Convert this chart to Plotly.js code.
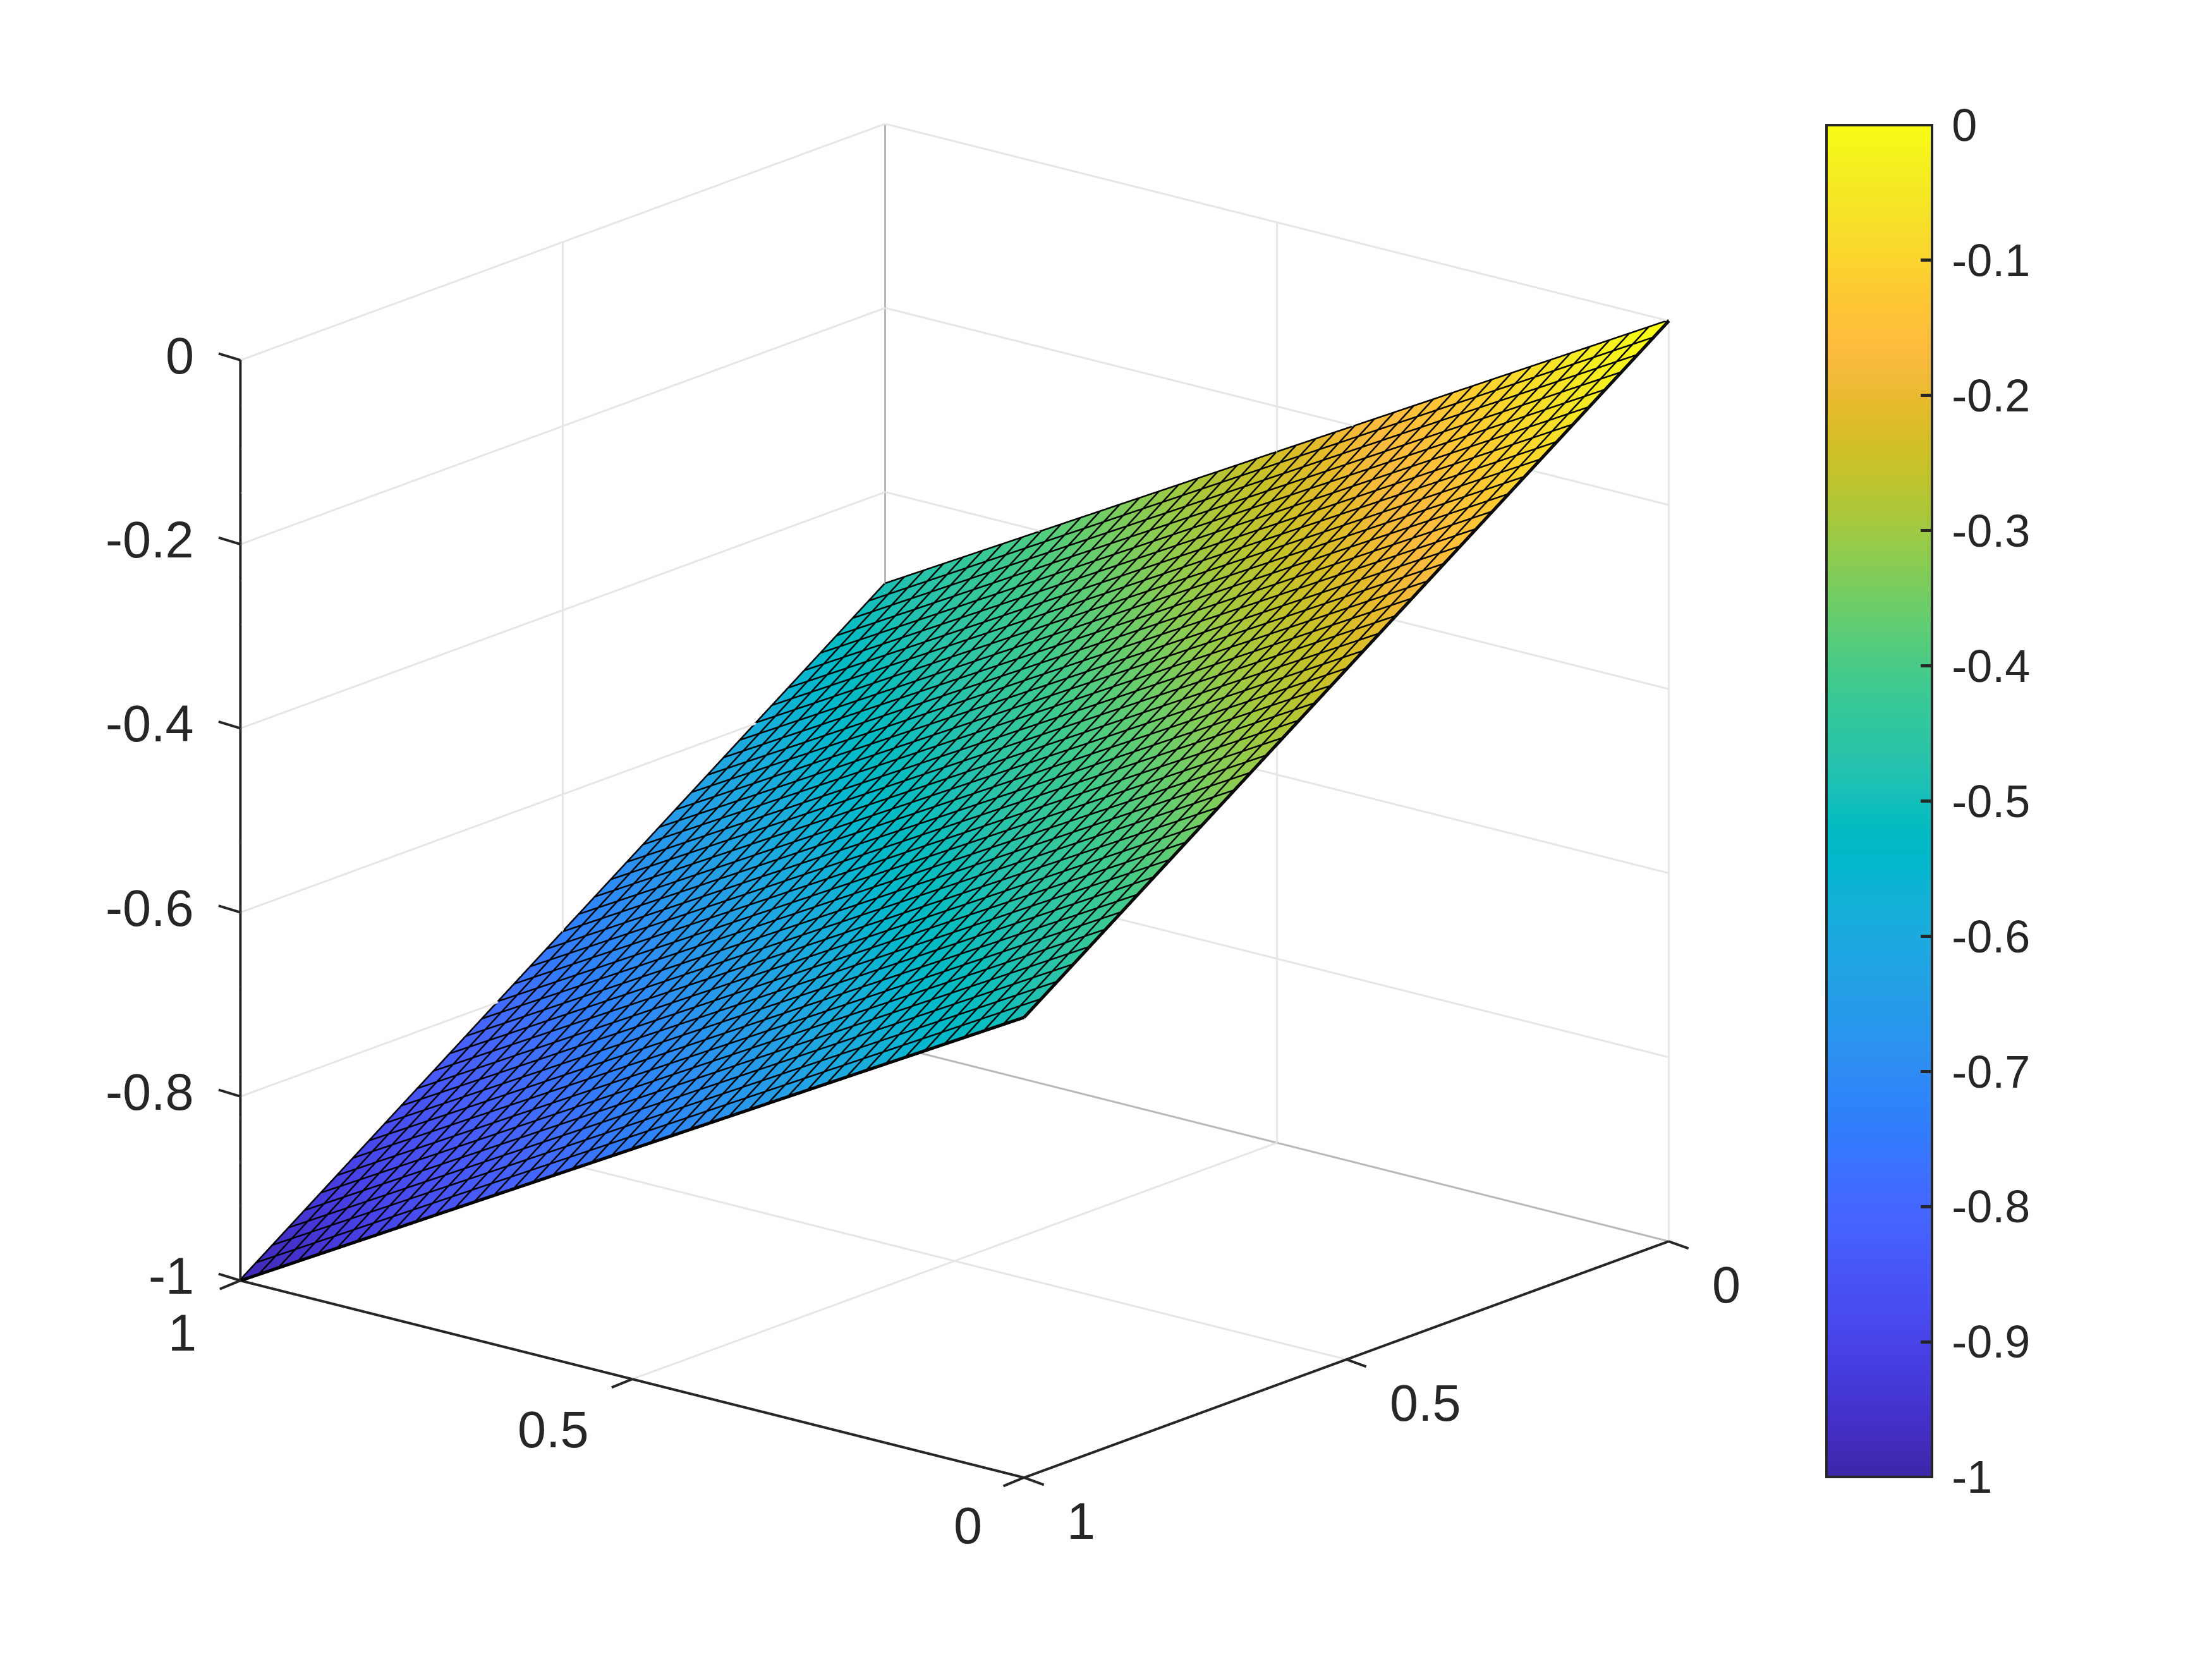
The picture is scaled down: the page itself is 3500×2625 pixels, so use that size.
<!DOCTYPE html>
<html><head><meta charset="utf-8">
<script src="https://cdn.plot.ly/plotly-3.0.1.min.js"></script>
<style>html,body{margin:0;padding:0;background:#fff}#g{width:3500px;height:2625px}</style></head>
<body><div id="g"></div>
<script>
// corner values: the surface is a plane through these four points
const xCorners = [0, 1];
const yCorners = [0, 1];
const zCorners = [[0, -0.5], [-0.5, -1]];
// colour values at the corners: each flat mesh cell takes the colour of its first vertex, slightly above its mean height
const colorCorners = [[0.0125, -0.4875], [-0.4875, -0.9875]];
// mesh lines: grid positions, and surface height along its two opposite edges
const meshGrid = [0,0.025,0.05,0.075,0.1,0.125,0.15,0.175,0.2,0.225,0.25,0.275,0.3,0.325,0.35,0.375,0.4,0.425,0.45,0.475,0.5,0.525,0.55,0.575,0.6,0.625,0.65,0.675,0.7,0.725,0.75,0.775,0.8,0.825,0.85,0.875,0.9,0.925,0.95,0.975,1];
const zEdgeLow = [0,-0.0125,-0.025,-0.0375,-0.05,-0.0625,-0.075,-0.0875,-0.1,-0.1125,-0.125,-0.1375,-0.15,-0.1625,-0.175,-0.1875,-0.2,-0.2125,-0.225,-0.2375,-0.25,-0.2625,-0.275,-0.2875,-0.3,-0.3125,-0.325,-0.3375,-0.35,-0.3625,-0.375,-0.3875,-0.4,-0.4125,-0.425,-0.4375,-0.45,-0.4625,-0.475,-0.4875,-0.5];
const zEdgeHigh = [-0.5,-0.5125,-0.525,-0.5375,-0.55,-0.5625,-0.575,-0.5875,-0.6,-0.6125,-0.625,-0.6375,-0.65,-0.6625,-0.675,-0.6875,-0.7,-0.7125,-0.725,-0.7375,-0.75,-0.7625,-0.775,-0.7875,-0.8,-0.8125,-0.825,-0.8375,-0.85,-0.8625,-0.875,-0.8875,-0.9,-0.9125,-0.925,-0.9375,-0.95,-0.9625,-0.975,-0.9875,-1];

const xyTicks = [0, 0.5, 1];
const xyLabels = ['0', '0.5', '1'];
const zTicks = [-1, -0.8, -0.6, -0.4, -0.2, 0];
const zLabels = ['-1', '-0.8', '-0.6', '-0.4', '-0.2', '0'];
const cbTicks = [-1, -0.9, -0.8, -0.7, -0.6, -0.5, -0.4, -0.3, -0.2, -0.1, 0];
const cbLabels = ['-1', '-0.9', '-0.8', '-0.7', '-0.6', '-0.5', '-0.4', '-0.3', '-0.2', '-0.1', '0'];

const parula = [[0.2422,0.1504,0.6603],[0.2504,0.165,0.7076],[0.2578,0.1818,0.7511],[0.2647,0.1978,0.7952],[0.2706,0.2147,0.8364],[0.2751,0.2342,0.871],[0.2783,0.2559,0.8991],[0.2803,0.2782,0.9221],[0.2813,0.3006,0.9414],[0.281,0.3228,0.9579],[0.2795,0.3447,0.9717],[0.276,0.3667,0.9829],[0.2699,0.3892,0.9906],[0.2602,0.4123,0.9952],[0.244,0.4358,0.9988],[0.2206,0.4603,0.9973],[0.1963,0.4847,0.9892],[0.1834,0.5074,0.9798],[0.1786,0.5289,0.9682],[0.1764,0.5499,0.952],[0.1687,0.5703,0.9359],[0.154,0.5902,0.9218],[0.146,0.6091,0.9079],[0.138,0.6276,0.8973],[0.1248,0.6459,0.8883],[0.1113,0.6635,0.8763],[0.0952,0.6798,0.8598],[0.0689,0.6948,0.8394],[0.0297,0.7082,0.8163],[0.0036,0.7203,0.7917],[0.0067,0.7312,0.766],[0.0433,0.7411,0.7394],[0.0964,0.75,0.712],[0.1408,0.7584,0.6842],[0.1717,0.767,0.6554],[0.1938,0.7758,0.6251],[0.2161,0.7843,0.5923],[0.247,0.7918,0.5567],[0.2906,0.7973,0.5188],[0.3406,0.8008,0.4789],[0.3909,0.8029,0.4354],[0.4456,0.8024,0.3909],[0.5044,0.7993,0.348],[0.5616,0.7942,0.3045],[0.6174,0.7876,0.2612],[0.672,0.7793,0.2227],[0.7242,0.7698,0.191],[0.7738,0.7598,0.1646],[0.8203,0.7498,0.1535],[0.8634,0.7406,0.1596],[0.9035,0.733,0.1774],[0.9393,0.7288,0.21],[0.9728,0.7298,0.2394],[0.9956,0.7434,0.2371],[0.997,0.7659,0.2199],[0.9952,0.7861,0.1996],[0.9892,0.8134,0.1885],[0.9786,0.8386,0.1766],[0.9676,0.8639,0.1643],[0.961,0.889,0.1537],[0.9597,0.9135,0.1423],[0.9628,0.9373,0.1265],[0.9691,0.9606,0.1064],[0.9769,0.9839,0.0805]];
const colorscale = parula.map((c,i)=>[i/(parula.length-1),`rgb(${c.map(v=>Math.round(v*255)).join(',')})`]);

const ink = '#262626';
const font = 'Liberation Sans, Arial, sans-serif';
const zMin = zTicks[0], zMax = zTicks[zTicks.length-1];

function segments(list){
  const out = {x:[],y:[],z:[]};
  list.forEach(s=>{
    out.x.push(s[0][0],s[1][0],null);
    out.y.push(s[0][1],s[1][1],null);
    out.z.push(s[0][2],s[1][2],null);
  });
  return out;
}
function lines(list,color,width){
  return Object.assign({type:'scatter3d',mode:'lines',hoverinfo:'skip',showlegend:false,connectgaps:false,
    line:{color,width}},segments(list));
}

const meshSegs = [];
meshGrid.forEach((g,i)=>{
  meshSegs.push([[g,0,zEdgeLow[i]],[g,1,zEdgeHigh[i]]]);
  meshSegs.push([[0,g,zEdgeLow[i]],[1,g,zEdgeHigh[i]]]);
});
const lightSegs = [];
zTicks.forEach(z=>{
  lightSegs.push([[1,1,z],[1,0,z]]);
  lightSegs.push([[1,0,z],[0,0,z]]);
});
xyTicks.forEach(v=>{
  if(v!==1) lightSegs.push([[v,0,zMin],[v,0,zMax]]);
  if(v!==0) lightSegs.push([[1,v,zMin],[1,v,zMax]]);
  if(v===0.5){
    lightSegs.push([[v,0,zMin],[v,1,zMin]]);
    lightSegs.push([[0,v,zMin],[1,v,zMin]]);
  }
});
const darkSegs = [
  [[1,0,zMin],[1,0,zMax]],
  [[1,0,zMin],[0,0,zMin]],
  [[1,0,zMin],[1,1,zMin]]
];
const axisSegs = [
  [[1,1,zMin],[1,1,zMax]],
  [[1,1,zMin],[0,1,zMin]],
  [[0,1,zMin],[0,0,zMin]]
];

const hiddenAxis = {showspikes:false, zeroline:false, showbackground:false, showticklabels:false,
  showgrid:false, showline:false, ticks:'', title:{text:''}};

const annFont = {family:font, size:81, color:ink};
const stub = (x,y,z,ax,ay)=>({x,y,z,text:' ',showarrow:true,arrowhead:0,arrowwidth:4,arrowcolor:ink,standoff:0,startstandoff:0,ax,ay,font:{size:1}});
const annotations = [];
xyTicks.forEach((v,i)=>{
  annotations.push(stub(v,1,zMin,-34,14));
  annotations.push(stub(0,v,zMin,33,12));
  annotations.push({x:v,y:1,z:zMin,text:xyLabels[i],showarrow:false,font:annFont,xanchor:'center',yanchor:'middle',xshift:[-89,-125,-92][i],yshift:-[76,80,83][i]});
  annotations.push({x:0,y:v,z:zMin,text:xyLabels[i],showarrow:false,font:annFont,xanchor:'center',yanchor:'middle',xshift:[91,125,90][i],yshift:-69});
});
zTicks.forEach((v,i)=>{
  annotations.push(stub(1,1,v,-36,-11));
  annotations.push({x:1,y:1,z:v,text:zLabels[i],showarrow:false,font:annFont,xanchor:'right',yanchor:'middle',xshift:-71,yshift:7});
});

const surface = {type:'surface', x:xCorners, y:yCorners, z:zCorners, surfacecolor:colorCorners, cauto:false, cmin:-1, cmax:0, colorscale,
  hoverinfo:'skip',
  lighting:{ambient:1,diffuse:0,specular:0,roughness:1,fresnel:0},
  contours:{x:{show:false,highlight:false},y:{show:false,highlight:false},z:{show:false,highlight:false}},
  colorbar:{x:2890/3500,xanchor:'left',xpad:0,y:1-198/2625,yanchor:'top',ypad:0,
    lenmode:'pixels',len:2139,thicknessmode:'pixels',thickness:167,
    outlinewidth:4,outlinecolor:ink,borderwidth:0,
    tickmode:'array',tickvals:cbTicks,ticktext:cbLabels.map(t=>'\u2009'+t),ticks:'inside',ticklen:20,tickwidth:5,tickcolor:ink,
    tickfont:{family:font,size:72,color:ink}}
};

const R = 2;
const layout = {width:3500,height:2625,margin:{l:0,r:0,t:0,b:0},paper_bgcolor:'#fff',showlegend:false,
  scene:{domain:{x:[0,0.863],y:[0.0347,1]},
    camera:{projection:{type:'orthographic'},up:{x:0,y:0,z:1},center:{x:0,y:0,z:0},
      eye:{x:-0.6072*R,y:0.7332*R,z:0.3033*R}},
    aspectmode:'manual',aspectratio:{x:1.2733,y:1.2649,z:1.2088},
    xaxis:Object.assign({},hiddenAxis,{range:[-0.001,1.001]}),
    yaxis:Object.assign({},hiddenAxis,{range:[-0.001,1.001]}),
    zaxis:Object.assign({},hiddenAxis,{range:[zMin-0.001,zMax+0.001]}),
    annotations
  }};
const data = [lines(lightSegs,'#e6e6e6',6),lines(darkSegs,'#b8b8b8',6),surface,lines(meshSegs,'#000',10),lines(axisSegs,ink,8)];
Plotly.newPlot('g',data,layout,{displayModeBar:false});
</script></body></html>
